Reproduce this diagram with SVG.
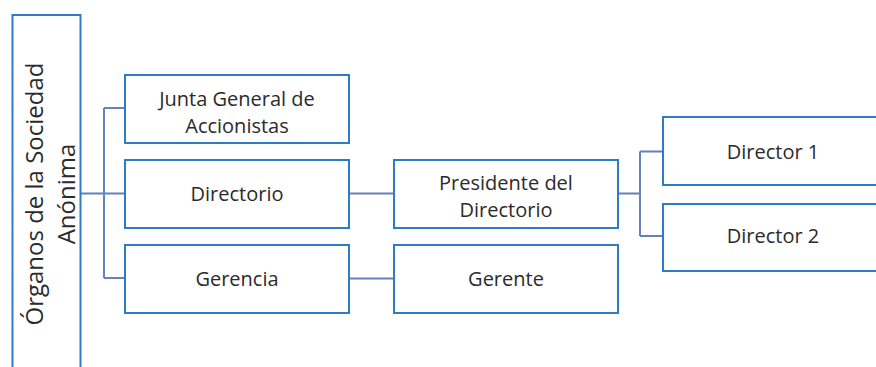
<svg xmlns="http://www.w3.org/2000/svg" width="876" height="367" viewBox="0 0 876 367">
<style>
.box{fill:#fff;stroke:#2E7CC6;stroke-width:2}
.t{font-family:"Open Sans","Liberation Sans",sans-serif;font-size:20px;fill:#2b2b2b;text-anchor:middle}
.tv{font-family:"Open Sans","Liberation Sans",sans-serif;font-size:24px;fill:#2b2b2b;text-anchor:middle}
.c{fill:none;stroke:#4A6BB3;stroke-width:2;stroke-opacity:0.85}
</style>
<rect width="876" height="367" fill="#fff"/>
<g id="connectors">
<path class="c" d="M81 193.5H104M104 108V278M104 108H125M104 193.5H125M104 278H125"/>
<path class="c" d="M349 193.5H394"/>
<path class="c" d="M349 278.5H394"/>
<path class="c" d="M618 193.5H640M640 151.5V236M640 151.5H663M640 236H663"/>
</g>
<g id="organos">
<rect class="box" x="12.5" y="15" width="68" height="370"/>
<g transform="translate(43,194) rotate(-90)"><text class="tv" x="0" y="0">Órganos de la Sociedad</text></g>
<g transform="translate(75,194) rotate(-90)"><text class="tv" x="0" y="0">Anónima</text></g>
</g>
<g id="junta">
<rect class="box" x="125" y="75" width="224" height="68"/>
<text class="t" x="237" y="106">Junta General de</text>
<text class="t" x="237" y="132.5">Accionistas</text>
</g>
<g id="directorio">
<rect class="box" x="125" y="160" width="224" height="68"/>
<text class="t" x="237" y="201">Directorio</text>
</g>
<g id="gerencia">
<rect class="box" x="125" y="245" width="224" height="68"/>
<text class="t" x="237" y="286">Gerencia</text>
</g>
<g id="presidente">
<rect class="box" x="394" y="160" width="224" height="68"/>
<text class="t" x="506" y="190">Presidente del</text>
<text class="t" x="506" y="216.5">Directorio</text>
</g>
<g id="gerente">
<rect class="box" x="394" y="245" width="224" height="68"/>
<text class="t" x="506" y="286">Gerente</text>
</g>
<g id="director1">
<rect class="box" x="663" y="117" width="222" height="68"/>
<text class="t" x="773" y="159">Director 1</text>
</g>
<g id="director2">
<rect class="box" x="663" y="204" width="222" height="67"/>
<text class="t" x="773" y="243">Director 2</text>
</g>
</svg>
